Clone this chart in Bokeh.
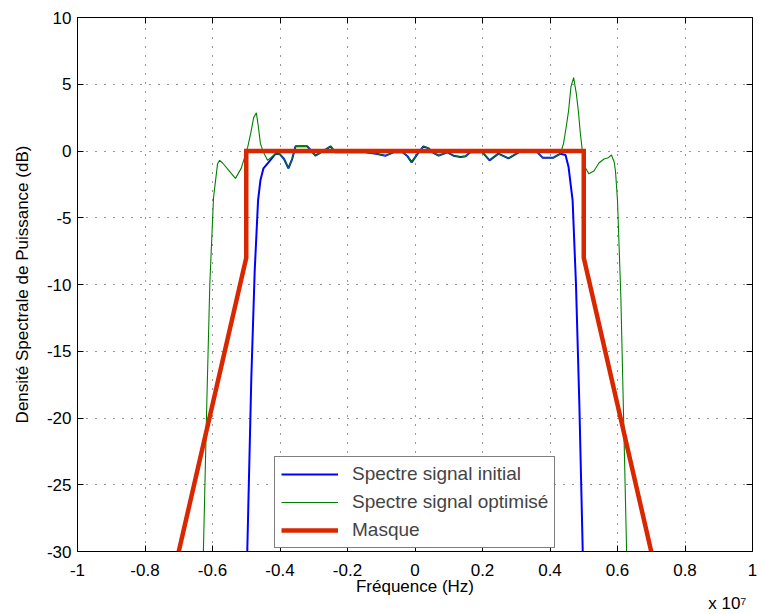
from bokeh.plotting import figure
from bokeh.models import (LinearAxis, FixedTicker, CustomJSTickFormatter, Legend,
                          LegendItem, Title, Range1d)
from bokeh.embed import file_html
from bokeh.resources import INLINE

# ---------------- data (frequency in units of 1e7 Hz, level in dB) ----------------
freq_initial = [-0.497, -0.485, -0.475, -0.465, -0.458, -0.449, -0.434, -0.413, -0.400,
                -0.388, -0.375, -0.364, -0.354, -0.319, -0.307, -0.295, -0.272, -0.250,
                -0.236, -0.191, -0.147, -0.115, -0.087, -0.064, -0.037, -0.022, -0.010,
                0.008, 0.025, 0.040, 0.052, 0.070, 0.096, 0.114, 0.135, 0.150, 0.164,
                0.200, 0.221, 0.247, 0.277, 0.307, 0.325, 0.345, 0.363, 0.378, 0.410,
                0.431, 0.446, 0.455, 0.467, 0.477, 0.487, 0.497]
db_initial = [-30.0, -17.0, -9.0, -3.7, -2.2, -1.3, -0.85, -0.2, -0.25,
              -0.6, -1.3, -0.6, 0.35, 0.35, 0.0, -0.35, 0.0, 0.35,
              -0.1, -0.1, -0.1, -0.2, -0.35, -0.1, -0.1, -0.4, -0.85,
              -0.2, 0.35, 0.2, -0.1, -0.35, -0.1, -0.35, -0.45, -0.4, -0.1,
              -0.1, -0.7, -0.2, -0.55, -0.1, 0.05, 0.05, -0.1, -0.5, -0.5,
              -0.2, -0.3, -1.2, -3.7, -10.0, -19.0, -30.0]

freq_optim = [-0.627, -0.617, -0.608, -0.597, -0.585, -0.579, -0.570, -0.550, -0.532,
              -0.515, -0.496, -0.487, -0.478, -0.470, -0.464, -0.458, -0.449, -0.437,
              -0.413, -0.400, -0.388, -0.375, -0.364, -0.354, -0.319, -0.307, -0.295,
              -0.272, -0.250, -0.236, -0.191, -0.147, -0.115, -0.087, -0.064, -0.037,
              -0.022, -0.010, 0.008, 0.025, 0.040, 0.052, 0.070, 0.096, 0.114, 0.135,
              0.150, 0.164, 0.200, 0.221, 0.247, 0.277, 0.307, 0.325, 0.345, 0.363,
              0.378, 0.410, 0.431, 0.440, 0.448, 0.455, 0.462, 0.470, 0.478, 0.484,
              0.490, 0.496, 0.505, 0.515, 0.530, 0.545, 0.560, 0.573, 0.582, 0.590,
              0.594, 0.600, 0.610, 0.619, 0.627]
db_optim = [-30.0, -19.0, -10.0, -3.5, -0.95, -0.7, -0.9, -1.5, -2.05,
            -1.3, 0.25, 1.3, 2.5, 2.86, 1.8, 0.55, -0.1, -0.7,
            -0.2, -0.25, -0.6, -1.3, -0.6, 0.35, 0.35, 0.0, -0.35,
            0.0, 0.35, -0.1, -0.1, -0.1, -0.2, -0.35, -0.1, -0.1,
            -0.4, -0.85, -0.2, 0.35, 0.2, -0.1, -0.35, -0.1, -0.35, -0.45,
            -0.4, -0.1, -0.1, -0.7, -0.2, -0.55, -0.1, 0.05, 0.05, -0.1,
            -0.5, -0.5, -0.2, 0.55, 1.8, 3.0, 4.8, 5.5, 4.3, 3.0,
            1.3, 0.0, -1.25, -1.7, -1.5, -0.9, -0.6, -0.5, -0.3, -0.8,
            -1.5, -3.7, -11.0, -21.0, -30.0]

freq_mask = [-0.7, -0.5, -0.5, 0.5, 0.5, 0.7]
db_mask = [-30.0, -8.0, 0.0, 0.0, -8.0, -30.0]

x_ticks = [-1, -0.8, -0.6, -0.4, -0.2, 0, 0.2, 0.4, 0.6, 0.8, 1]
y_ticks = [-30, -25, -20, -15, -10, -5, 0, 5, 10]

labels = ["Spectre signal initial", "Spectre signal optimisé", "Masque"]
x_label = "Fréquence (Hz)"
y_label = "Densité Spectrale de Puissance (dB)"
multiplier = "x 10\u2077"

FONT = "Liberation Sans"
FS = "17px"

p = figure(width=760, height=614, output_backend="svg", toolbar_location=None,
           x_range=Range1d(-1, 1), y_range=Range1d(-30, 10),
           x_axis_label=x_label, y_axis_label=y_label,
           min_border_left=77, min_border_top=17, min_border_right=8, min_border_bottom=63)
p.outline_line_color = None
p.background_fill_color = "white"
p.border_fill_color = "white"

fmt = CustomJSTickFormatter(code="return String(Math.round(tick*10)/10);")

for ax, ticks in ((p.xaxis[0], x_ticks), (p.yaxis[0], y_ticks)):
    ax.ticker = FixedTicker(ticks=ticks)
    ax.formatter = fmt
    ax.major_tick_in = 6
    ax.major_tick_out = 0
    ax.minor_tick_line_color = None
    ax.axis_line_color = "black"
    ax.major_tick_line_color = "black"
    ax.major_label_text_font = FONT
    ax.major_label_text_font_size = FS
    ax.major_label_text_color = "black"
    ax.axis_label_text_font = FONT
    ax.axis_label_text_font_size = FS
    ax.axis_label_text_font_style = "normal"
    ax.axis_label_text_color = "black"

p.xaxis[0].major_label_standoff = 12
p.xaxis[0].axis_label_standoff = -2
p.yaxis[0].major_label_standoff = 6
p.yaxis[0].axis_label_standoff = 12

for side, ticks in (("right", y_ticks), ("above", x_ticks)):
    ax = LinearAxis(ticker=FixedTicker(ticks=ticks), major_label_text_font_size="1px",
                    major_label_text_color=None,
                    major_label_standoff=0, major_tick_in=6, major_tick_out=0,
                    minor_tick_line_color=None, axis_line_color="black",
                    major_tick_line_color="black")
    p.add_layout(ax, side)

p.xgrid[0].ticker = FixedTicker(ticks=x_ticks)
p.ygrid[0].ticker = FixedTicker(ticks=y_ticks)
for g in (p.xgrid[0], p.ygrid[0]):
    g.grid_line_color = "#303030"
    g.grid_line_dash = "1 8"
    g.grid_line_width = 1

r_init = p.line(freq_initial, db_initial, line_color="#0000FF", line_width=2)
r_opt = p.line(freq_optim, db_optim, line_color="#008000", line_width=1.1)
r_mask = p.line(freq_mask, db_mask, line_color="#D92800", line_width=4.5,
                line_join="miter")

legend = Legend(items=[LegendItem(label=labels[0], renderers=[r_init]),
                       LegendItem(label=labels[1], renderers=[r_opt]),
                       LegendItem(label=labels[2], renderers=[r_mask])],
                location=(197, 3), margin=0, padding=6, spacing=6,
                glyph_width=57, glyph_height=20, label_height=20, label_standoff=14,
                label_text_font=FONT, label_text_font_size="19px",
                border_line_color="black", border_line_width=1.2,
                background_fill_color="white", background_fill_alpha=1.0)
p.add_layout(legend, "center")

mult = Title(text=multiplier, align="right", vertical_align="bottom", offset=6,
             standoff=-14, text_font=FONT, text_font_size=FS,
             text_font_style="normal", text_color="black")
p.add_layout(mult, "below")

open("out.html", "w").write(file_html(p, INLINE))
